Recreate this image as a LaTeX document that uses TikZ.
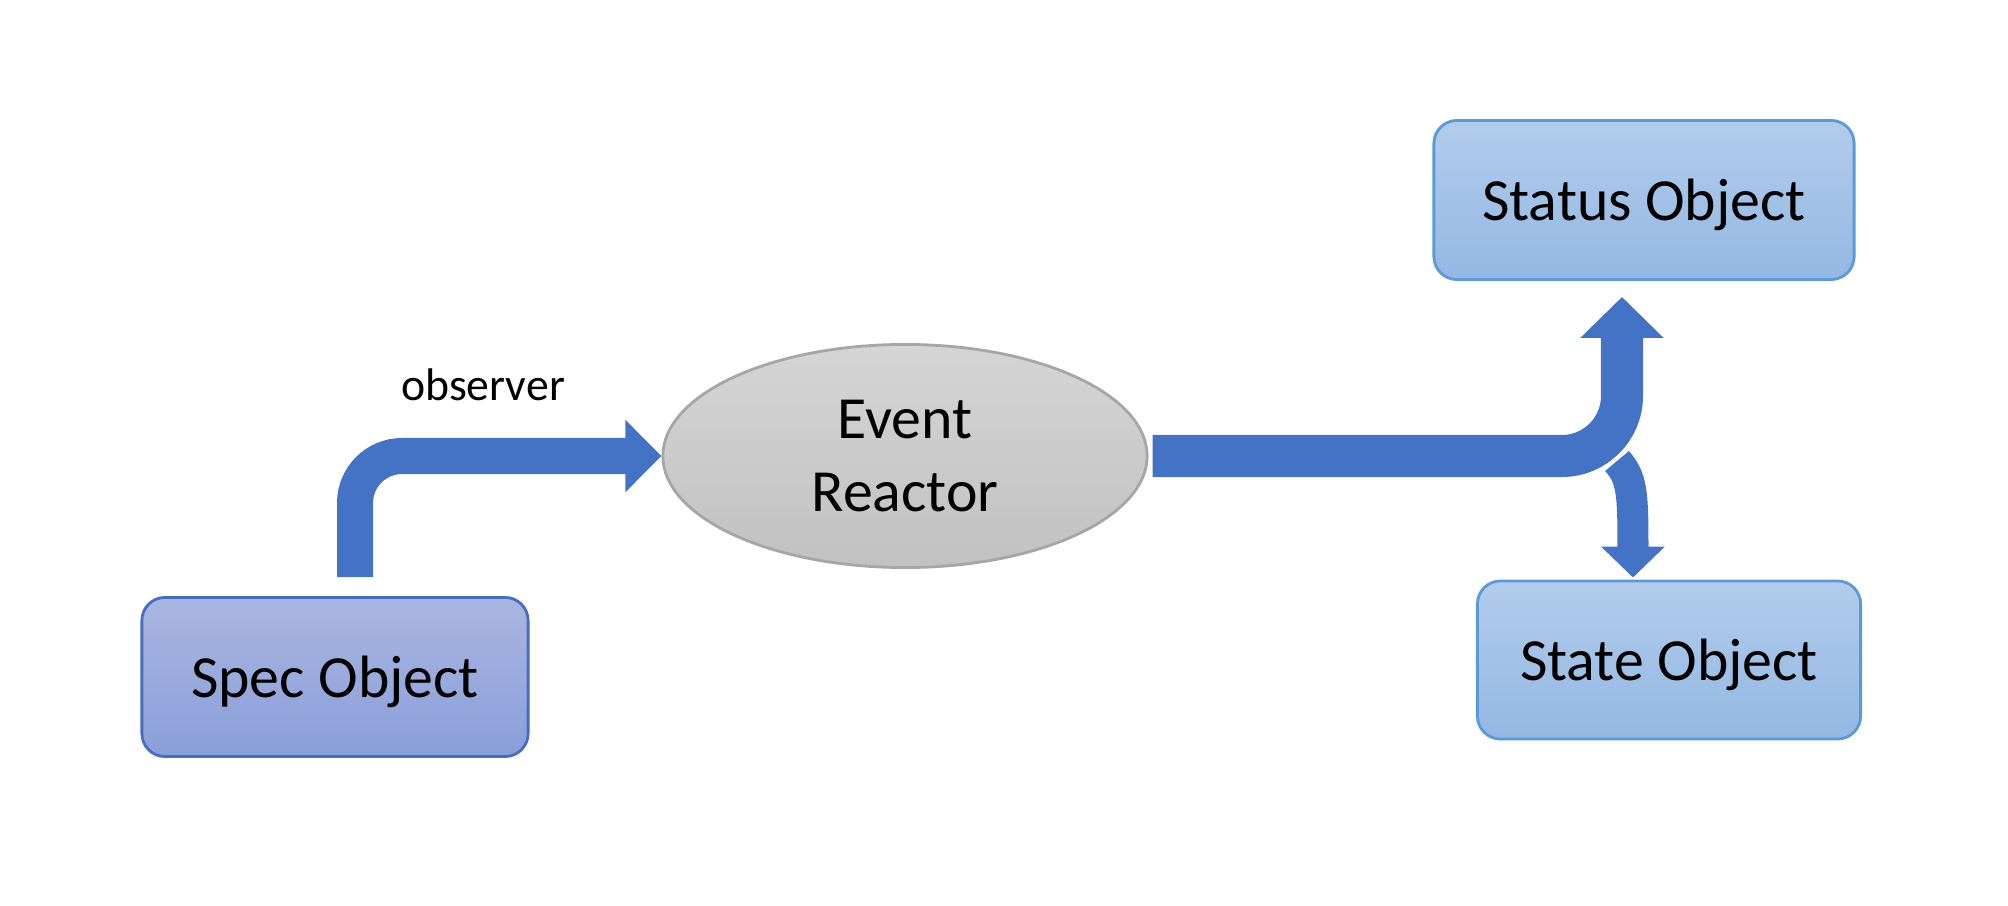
\documentclass[tikz,border=0pt]{standalone}
\usepackage{fontspec}
\setmainfont{Carlito}
\usetikzlibrary{arrows.meta,positioning,shapes.geometric}
\definecolor{flowblue}{HTML}{4472C4}
\definecolor{specline}{HTML}{4A6CC0}
\definecolor{spectop}{HTML}{AAB6E2}
\definecolor{specbot}{HTML}{899ED8}
\definecolor{objline}{HTML}{5B9BD5}
\definecolor{objtop}{HTML}{B3CCEC}
\definecolor{objbot}{HTML}{93B7E3}
\definecolor{evline}{HTML}{A6A6A6}
\definecolor{evtop}{HTML}{D5D5D5}
\definecolor{evbot}{HTML}{C1C1C1}
\tikzset{
  specbox/.style={draw=specline, line width=0.8pt, rounded corners=0.23cm,
    top color=spectop, bottom color=specbot, text depth=0pt,
    minimum width=3.86cm, minimum height=1.59cm, font=\fontsize{17}{21}\selectfont},
  objbox/.style={specbox, draw=objline, top color=objtop, bottom color=objbot},
  reactor/.style={ellipse, draw=evline, line width=0.8pt, top color=evtop, bottom color=evbot,
    minimum width=4.84cm, minimum height=2.23cm, inner sep=0pt, align=center,
    font=\fontsize{17}{21}\selectfont},
  lbl/.style={font=\fontsize{13}{15}\selectfont},
  flow/.style={draw=flowblue, line width=#1}
}

\begin{document}
\begin{tikzpicture}[x=0.01cm,y=-0.01cm]
  \useasboundingbox (0,0) rectangle (2008,906);
  \node[reactor] (evr) at (905,456) {\raisebox{-0.7pt}{Event}\\\raisebox{-0.7pt}{Reactor}};
  \node[specbox] (spec) at (335,677) {Spec Object};
  \node[objbox, minimum width=4.20cm] (status) at (1644,200) {Status Object};
  \node[objbox, minimum width=3.83cm, minimum height=1.58cm] (state) at (1669,660) {State Object};
  \node[lbl] (obs) at (483,385) {observer};

  \coordinate (specOut) at ([xshift=0.20cm, yshift=0.19cm]spec.north);
  \coordinate (statusIn) at ([xshift=-0.22cm, yshift=-0.16cm]status.south);
  \coordinate (brStart) at (1617,461);
  \coordinate (stateIn) at ([xshift=-0.36cm, yshift=0.02cm]state.north);

  % spec -> reactor
  \draw[flow=0.36cm, rounded corners=0.47cm, -{Triangle[width=0.70cm, length=0.36cm]}]
    (specOut) |- (evr.west);
  % reactor -> status
  \draw[flow=0.42cm, rounded corners=0.60cm, -{Triangle[width=0.81cm, length=0.41cm]}]
    ([xshift=0.04cm]evr.east) -| (statusIn);
  % branch -> state
  \draw[flow=0.31cm, -{Triangle[width=0.62cm, length=0.31cm]},
        preaction={draw=white, line width=0.38cm, shorten <=-0.04cm, -}]
    (brStart) .. controls (1632,478) and (1633,492) .. (stateIn);
\end{tikzpicture}
\end{document}
